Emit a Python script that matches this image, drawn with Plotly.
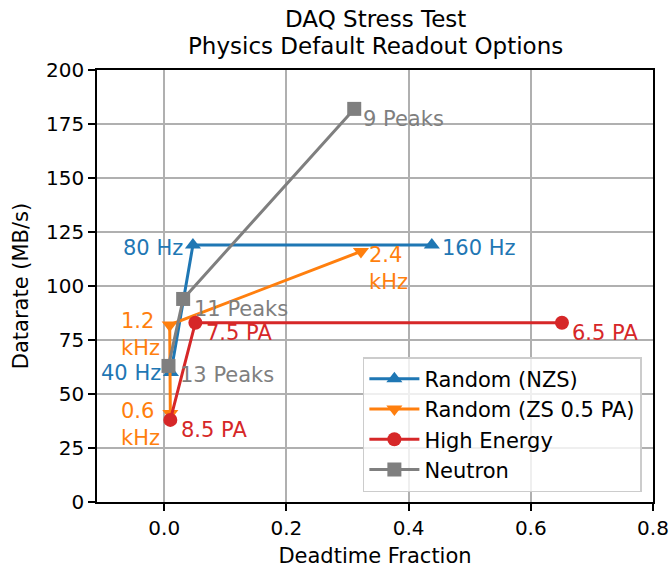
import plotly.graph_objects as go

# values
nzs_x = [0.011, 0.047, 0.438]
nzs_y = [60, 119, 119]
nzs_labels = ["40 Hz", "80 Hz", "160 Hz"]

zs_x = [0.010, 0.009, 0.322]
zs_y = [41, 82, 116]
zs_labels = ["0.6<br>kHz", "1.2<br>kHz", "2.4<br>kHz"]

he_x = [0.010, 0.051, 0.651]
he_y = [38, 83, 83]
he_labels = ["8.5 PA", "7.5 PA", "6.5 PA"]

neutron_x = [0.007, 0.031, 0.311]
neutron_y = [63, 94, 182]
neutron_labels = ["13 Peaks", "11 Peaks", "9 Peaks"]

title_lines = ["DAQ Stress Test", "Physics Default Readout Options"]

FONT = "DejaVu Sans, Arial, sans-serif"

series = [
    ("Random (NZS)", nzs_x, nzs_y, nzs_labels, "#1f77b4", "triangle-up"),
    ("Random (ZS 0.5 PA)", zs_x, zs_y, zs_labels, "#ff7f0e", "triangle-down"),
    ("High Energy", he_x, he_y, he_labels, "#d62728", "circle"),
    ("Neutron", neutron_x, neutron_y, neutron_labels, "#7f7f7f", "square"),
]

# label placement per point: (xanchor, xshift, yshift)
placement = {
    "Random (NZS)": [("right", -8, -1), ("right", -8, -3), ("left", 8, -3)],
    "Random (ZS 0.5 PA)": [("right", -8, -11), ("right", -8, -10), ("left", 6, -17)],
    "High Energy": [("left", 9, -10), ("left", 9, -10), ("left", 8, -10)],
    "Neutron": [("left", 10, -9), ("left", 9, -10), ("left", 7, -10)],
}

fig = go.Figure()

annotations = []
for name, xs, ys, labels, color, symbol in series:
    fig.add_trace(
        go.Scatter(
            x=xs,
            y=ys,
            mode="lines+markers",
            name=name,
            legendgroup=name,
            line=dict(color=color, width=3),
            marker=dict(color=color, symbol=symbol, size=14, line=dict(width=0)),
        )
    )
    for (x, y, text, (xa, xs_, ys_)) in zip(xs, ys, labels, placement[name]):
        annotations.append(
            dict(
                x=x,
                y=y,
                text=text,
                showarrow=False,
                xanchor=xa,
                yanchor="middle",
                xshift=xs_,
                yshift=ys_,
                align="left",
                font=dict(family=FONT, size=21, color=color),
            )
        )

# two-line title, placed above the plot area
for i, line in enumerate(title_lines):
    annotations.append(
        dict(
            x=0.5,
            y=1,
            xref="paper",
            yref="paper",
            text=line,
            showarrow=False,
            xanchor="center",
            yanchor="middle",
            yshift=51 - 27 * i,
            font=dict(family=FONT, size=23, color="black"),
        )
    )

axis_common = dict(
    showgrid=True,
    gridcolor="#b0b0b0",
    gridwidth=1.6,
    showline=True,
    linecolor="black",
    linewidth=1.6,
    mirror=True,
    ticks="outside",
    ticklen=7,
    tickwidth=1.6,
    tickcolor="black",
    tickfont=dict(family=FONT, size=20, color="black"),
    zeroline=False,
)

fig.update_xaxes(
    range=[-0.11, 0.8],
    tickvals=[0.0, 0.2, 0.4, 0.6, 0.8],
    ticktext=["0.0", "0.2", "0.4", "0.6", "0.8"],
    title=dict(text="Deadtime Fraction", font=dict(family=FONT, size=21, color="black"), standoff=10),
    **axis_common,
)
fig.update_yaxes(
    range=[0, 200],
    tickvals=list(range(0, 201, 25)),
    title=dict(text="Datarate (MB/s)", font=dict(family=FONT, size=21, color="black"), standoff=12),
    **axis_common,
)

fig.update_layout(
    width=671,
    height=568,
    margin=dict(l=97, r=18, t=70, b=66, autoexpand=False),
    paper_bgcolor="white",
    plot_bgcolor="white",
    font=dict(family=FONT, size=21, color="black"),
    legend=dict(
        x=0.98,
        y=0.023,
        xanchor="right",
        yanchor="bottom",
        bgcolor="rgba(255,255,255,0.8)",
        bordercolor="#cccccc",
        borderwidth=1.5,
        tracegroupgap=0,
        itemwidth=50,
        font=dict(family=FONT, size=21, color="black"),
    ),
    annotations=annotations,
)

fig.write_html(
    "out.html",
    config={"displayModeBar": False},
    post_script="document.body.style.margin = '0';",
)
